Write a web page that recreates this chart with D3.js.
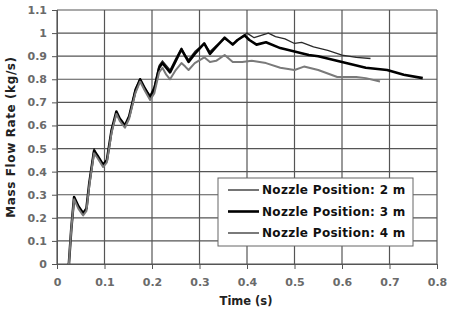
<!DOCTYPE html>
<html>
<head>
<meta charset="utf-8">
<script src="https://cdn.jsdelivr.net/npm/d3@7"></script>
<style>
  body { margin: 0; background: #fff; }
  svg { display: block; font-family: "DejaVu Sans", Arial, sans-serif; }
</style>
</head>
<body>
<div id="chart"></div>
<script>
const width = 449;
const height = 311;

// x ticks (s) and y ticks (kg/s)
const xTicks = [0, 0.1, 0.2, 0.3, 0.4, 0.5, 0.6, 0.7, 0.8];
const yTicks = [0, 0.1, 0.2, 0.3, 0.4, 0.5, 0.6, 0.7, 0.8, 0.9, 1, 1.1];

const seriesNames = ["Nozzle Position: 2 m", "Nozzle Position: 3 m", "Nozzle Position: 4 m"];

// [time, mass flow]
const nozzle2m = [
  [0.025, 0], [0.03, 0.15], [0.036, 0.29], [0.045, 0.25], [0.055, 0.22], [0.062, 0.24],
  [0.068, 0.35], [0.078, 0.5], [0.085, 0.47], [0.097, 0.43], [0.105, 0.45], [0.115, 0.58],
  [0.125, 0.66], [0.132, 0.63], [0.143, 0.6], [0.152, 0.64], [0.165, 0.76], [0.175, 0.8],
  [0.185, 0.76], [0.196, 0.73], [0.205, 0.77], [0.215, 0.86], [0.222, 0.88], [0.23, 0.86],
  [0.238, 0.84], [0.25, 0.89], [0.262, 0.935], [0.27, 0.905], [0.277, 0.885], [0.29, 0.92],
  [0.31, 0.955], [0.322, 0.92], [0.335, 0.945], [0.353, 0.975], [0.37, 0.955], [0.385, 0.975],
  [0.4, 1.0], [0.415, 0.98], [0.43, 0.99], [0.445, 1.0], [0.46, 0.985], [0.48, 0.975],
  [0.5, 0.955], [0.515, 0.96], [0.54, 0.94], [0.57, 0.925], [0.6, 0.905], [0.63, 0.895], [0.66, 0.89]
];

const nozzle3m = [
  [0.025, 0], [0.03, 0.15], [0.036, 0.29], [0.045, 0.25], [0.055, 0.22], [0.062, 0.24],
  [0.068, 0.35], [0.078, 0.49], [0.085, 0.47], [0.097, 0.43], [0.105, 0.45], [0.115, 0.58],
  [0.125, 0.66], [0.132, 0.63], [0.143, 0.6], [0.152, 0.64], [0.165, 0.75], [0.175, 0.8],
  [0.185, 0.76], [0.196, 0.72], [0.205, 0.76], [0.215, 0.85], [0.222, 0.87], [0.23, 0.85],
  [0.238, 0.83], [0.25, 0.88], [0.262, 0.93], [0.27, 0.9], [0.277, 0.875], [0.29, 0.91],
  [0.31, 0.955], [0.322, 0.91], [0.335, 0.94], [0.353, 0.98], [0.37, 0.95], [0.38, 0.97],
  [0.395, 0.99], [0.405, 0.97], [0.42, 0.95], [0.44, 0.96], [0.47, 0.935], [0.5, 0.92],
  [0.53, 0.905], [0.55, 0.9], [0.6, 0.875], [0.65, 0.85], [0.695, 0.84], [0.73, 0.82], [0.77, 0.805]
];

const nozzle4m = [
  [0.025, 0], [0.03, 0.15], [0.036, 0.28], [0.045, 0.24], [0.055, 0.21], [0.062, 0.23],
  [0.068, 0.34], [0.078, 0.48], [0.085, 0.46], [0.097, 0.42], [0.105, 0.44], [0.115, 0.57],
  [0.125, 0.65], [0.132, 0.62], [0.143, 0.59], [0.152, 0.63], [0.165, 0.74], [0.175, 0.79],
  [0.185, 0.75], [0.196, 0.71], [0.205, 0.74], [0.215, 0.83], [0.222, 0.85], [0.23, 0.82],
  [0.238, 0.8], [0.25, 0.84], [0.262, 0.87], [0.27, 0.855], [0.277, 0.84], [0.29, 0.87],
  [0.31, 0.895], [0.322, 0.875], [0.335, 0.88], [0.353, 0.905], [0.37, 0.875], [0.39, 0.875],
  [0.41, 0.88], [0.44, 0.87], [0.47, 0.85], [0.5, 0.84], [0.52, 0.855], [0.55, 0.84],
  [0.59, 0.81], [0.63, 0.81], [0.65, 0.805], [0.68, 0.79]
];

const seriesData = [nozzle2m, nozzle3m, nozzle4m];
const seriesColor = ["#2a2a2a", "#000000", "#7a7a7a"];
const seriesWidth = [1.3, 2.6, 2];

const margin = { top: 10, right: 12, bottom: 47, left: 57 };

const x = d3.scaleLinear().domain([0, 0.8]).range([margin.left, width - margin.right]);
const y = d3.scaleLinear().domain([0, 1.1]).range([height - margin.bottom, margin.top]);

const svg = d3.select("#chart").append("svg")
  .attr("width", width)
  .attr("height", height);

// grid
svg.append("g")
  .selectAll("line")
  .data(yTicks)
  .join("line")
  .attr("x1", x(0)).attr("x2", x(0.8))
  .attr("y1", d => y(d)).attr("y2", d => y(d))
  .attr("stroke", "#555").attr("stroke-width", 1.2);

svg.append("g")
  .selectAll("line")
  .data(xTicks)
  .join("line")
  .attr("y1", y(0)).attr("y2", y(1.1))
  .attr("x1", d => x(d)).attr("x2", d => x(d))
  .attr("stroke", "#555").attr("stroke-width", 1.2);

// axes
const xAxis = svg.append("g")
  .attr("transform", `translate(0,${y(0)})`)
  .call(d3.axisBottom(x).tickValues(xTicks).tickSize(5).tickFormat(d3.format("")));
const yAxis = svg.append("g")
  .attr("transform", `translate(${x(0)},0)`)
  .call(d3.axisLeft(y).tickValues(yTicks).tickSize(5).tickFormat(d3.format("")));

[xAxis, yAxis].forEach(a => {
  a.select(".domain").attr("stroke", "#555");
  a.selectAll(".tick line").attr("stroke", "#555");
  a.selectAll("text")
    .attr("fill", "#6a6a6a")
    .style("font-family", "DejaVu Sans, sans-serif")
    .style("font-size", "11px")
    .style("font-weight", "bold");
});
xAxis.selectAll("text").attr("dy", "1.25em");
yAxis.selectAll("text").attr("x", -10);

// lines
const line = d3.line().x(d => x(d[0])).y(d => y(d[1]));

svg.append("g")
  .attr("fill", "none")
  .selectAll("path")
  .data(seriesData)
  .join("path")
  .attr("stroke", (d, i) => seriesColor[i])
  .attr("stroke-width", (d, i) => seriesWidth[i])
  .attr("stroke-linejoin", "round")
  .attr("d", line);

// titles
svg.append("text")
  .attr("x", 246)
  .attr("y", 305)
  .attr("text-anchor", "middle")
  .style("font-size", "11.5px")
  .style("font-weight", "bold")
  .attr("fill", "#222")
  .text("Time (s)");

svg.append("text")
  .attr("transform", `translate(15,137) rotate(-90)`)
  .attr("text-anchor", "middle")
  .style("font-size", "12px")
  .style("letter-spacing", "0.6px")
  .style("font-weight", "bold")
  .attr("fill", "#222")
  .text("Mass Flow Rate (kg/s)");

// legend
const legend = svg.append("g");
legend.append("rect")
  .attr("x", 218).attr("y", 178)
  .attr("width", 195).attr("height", 68)
  .attr("fill", "#fff")
  .attr("stroke", "#666");

const item = legend.selectAll("g.item")
  .data(seriesNames)
  .join("g")
  .attr("class", "item")
  .attr("transform", (d, i) => `translate(228,${190 + i * 21.5})`);

item.append("line")
  .attr("x1", 0).attr("x2", 31)
  .attr("stroke", (d, i) => seriesColor[i])
  .attr("stroke-width", (d, i) => seriesWidth[i]);

item.append("text")
  .attr("x", 34)
  .attr("dy", "0.35em")
  .style("font-size", "12px")
  .style("letter-spacing", "0.3px")
  .style("font-weight", "bold")
  .attr("fill", "#111")
  .text(d => d);
</script>
</body>
</html>
